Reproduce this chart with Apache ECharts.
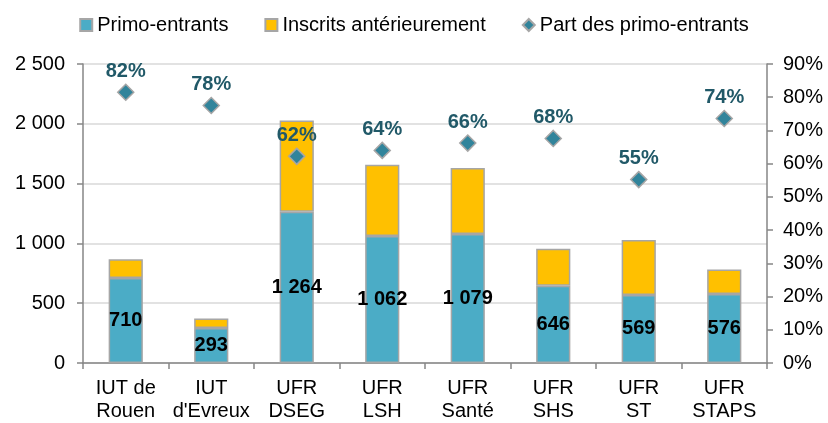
<!DOCTYPE html>
<html>
<head>
<meta charset="utf-8">
<script src="https://cdn.jsdelivr.net/npm/echarts@6/dist/echarts.min.js"></script>
<style>
  html, body { margin: 0; padding: 0; background: #fff; }
  #chart { width: 828px; height: 423px; }
</style>
</head>
<body>
<div id="chart"></div>
<script>
// composantes
const categories = ['IUT de\nRouen', "IUT\nd'Evreux", 'UFR\nDSEG', 'UFR\nLSH', 'UFR\nSanté', 'UFR\nSHS', 'UFR\nST', 'UFR\nSTAPS']
// effectifs
const primoEntrants = [710, 293, 1264, 1062, 1079, 646, 569, 576]
const inscritsAnterieurement = [157, 79, 764, 596, 552, 310, 459, 205]
// part des primo-entrants (%)
const partPrimo = [81.5, 77.5, 62.2, 64, 66.2, 67.6, 55.2, 73.6]

const leftTicks = { min: 0, max: 2500, interval: 500 }
const rightTicks = { min: 0, max: 90, interval: 10 }

const fmt = v => String(v).replace(/\B(?=(\d{3})+(?!\d))/g, ' ')
const font = 'Liberation Sans, Arial, sans-serif'
const axisGrey = '#868686'

const myChart = echarts.init(document.getElementById('chart'))
myChart.setOption({
  animation: false,
  textStyle: { fontFamily: font },
  legend: {
    top: 10,
    left: 'center',
    itemGap: 36,
    itemWidth: 12,
    itemHeight: 12,
    textStyle: { fontSize: 20, color: '#000', fontFamily: font },
    data: [
      { name: 'Primo-entrants', icon: 'rect' },
      { name: 'Inscrits antérieurement', icon: 'rect' },
      { name: 'Part des primo-entrants', icon: 'diamond' }
    ]
  },
  grid: { left: 83, right: 61, top: 64, bottom: 59 },
  xAxis: {
    type: 'category',
    data: categories,
    axisLine: { lineStyle: { color: axisGrey, width: 1.5 } },
    axisTick: { show: true, interval: 0, length: 6, lineStyle: { color: axisGrey, width: 1.5 } },
    axisLabel: { interval: 0, color: '#000', fontSize: 20, lineHeight: 23, margin: 14, fontFamily: font }
  },
  yAxis: [
    {
      type: 'value',
      min: leftTicks.min,
      max: leftTicks.max,
      interval: leftTicks.interval,
      axisLine: { show: true, lineStyle: { color: axisGrey, width: 1.5 } },
      axisTick: { show: true, length: 6, lineStyle: { color: axisGrey, width: 1.5 } },
      axisLabel: { color: '#000', fontSize: 20, margin: 18, formatter: fmt, fontFamily: font },
      splitLine: { lineStyle: { color: '#D9D9D9', width: 1.5 } }
    },
    {
      type: 'value',
      min: rightTicks.min,
      max: rightTicks.max,
      interval: rightTicks.interval,
      axisLine: { show: true, lineStyle: { color: axisGrey, width: 1.5 } },
      axisTick: { show: true, length: 6, lineStyle: { color: axisGrey, width: 1.5 } },
      axisLabel: { color: '#000', fontSize: 20, margin: 16, formatter: '{value}%', fontFamily: font },
      splitLine: { show: false }
    }
  ],
  series: [
    {
      name: 'Primo-entrants',
      type: 'bar',
      stack: 'total',
      barWidth: '40%',
      data: primoEntrants,
      itemStyle: { color: '#4BACC6', borderColor: '#A6A6A6', borderWidth: 1.5 },
      label: {
        show: true,
        position: 'inside',
        color: '#000',
        fontWeight: 'bold',
        fontSize: 20,
        fontFamily: font,
        textBorderWidth: 0,
        formatter: p => fmt(p.value)
      }
    },
    {
      name: 'Inscrits antérieurement',
      type: 'bar',
      stack: 'total',
      barWidth: '40%',
      data: inscritsAnterieurement,
      itemStyle: { color: '#FFC000', borderColor: '#A6A6A6', borderWidth: 1.5 }
    },
    {
      name: 'Part des primo-entrants',
      type: 'scatter',
      yAxisIndex: 1,
      data: partPrimo,
      symbol: 'diamond',
      symbolSize: 16,
      itemStyle: { color: '#31849B', borderColor: '#A6A6A6', borderWidth: 1.5, opacity: 1 },
      label: {
        show: true,
        position: 'top',
        distance: 2,
        color: '#215968',
        fontWeight: 'bold',
        fontSize: 20,
        fontFamily: font,
        formatter: p => Math.round(p.value) + '%'
      },
      z: 5
    }
  ]
})
</script>
</body>
</html>
